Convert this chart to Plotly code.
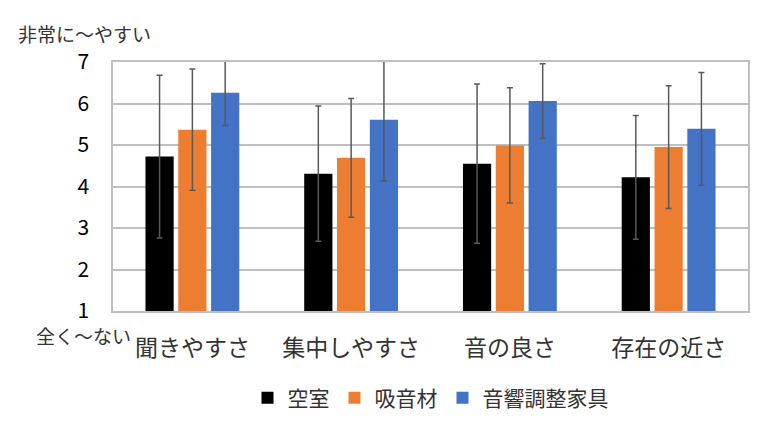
import plotly.graph_objects as go

categories = ["聞きやすさ", "集中しやすさ", "音の良さ", "存在の近さ"]
series_names = ["空室", "吸音材", "音響調整家具"]
empty_room = [4.72, 4.31, 4.55, 4.22]
absorber = [5.37, 4.69, 4.99, 4.95]
furniture = [6.26, 5.61, 6.06, 5.39]
empty_err = [1.96, 1.63, 1.92, 1.49]
absorber_err = [1.46, 1.43, 1.39, 1.48]
furniture_err = [0.79, 1.48, 0.90, 1.36]
colors = ["#000000", "#ED7D31", "#4472C4"]
y_ticks = [1, 2, 3, 4, 5, 6, 7]

FONT = "Noto Sans CJK JP"
fig = go.Figure()
for name, vals, errs, c in zip(series_names, [empty_room, absorber, furniture],
                               [empty_err, absorber_err, furniture_err], colors):
    fig.add_trace(go.Bar(
        x=categories, y=vals, name=name, marker_color=c, marker_line_width=0,
        error_y=dict(type="data", array=errs, color="#595959", thickness=1.5, width=3),
    ))

fig.update_layout(
    width=769, height=447,
    margin=dict(l=113, r=21, t=62, b=136),
    paper_bgcolor="white", plot_bgcolor="white",
    barmode="group", bargap=0.38, bargroupgap=0.14,
    font=dict(family=FONT, color="#222222"),
    showlegend=True,
    legend=dict(orientation="h", x=0.5, xanchor="center", y=-0.35, yanchor="middle",
                font=dict(size=21, family=FONT, color="#333333"), itemwidth=30,
                traceorder="normal"),
    annotations=[
        dict(text="非常に〜やすい", xref="paper", yref="paper", x=-0.153, y=1.0,
             xanchor="left", yanchor="bottom", showarrow=False,
             font=dict(size=19, family=FONT, color="#333333"), yshift=13),
        dict(text="全く〜ない", xref="paper", yref="paper", x=-0.125, y=0.0,
             xanchor="left", yanchor="top", showarrow=False,
             font=dict(size=19, family=FONT, color="#333333"), yshift=-9),
    ],
)
fig.update_xaxes(showline=True, linecolor="#bfbfbf", linewidth=1.5, mirror=True,
                 tickfont=dict(size=23, family=FONT, color="#333333"),
                 ticklabelstandoff=16, ticks="")
fig.update_yaxes(range=[1, 7], tickvals=y_ticks, showgrid=True, gridcolor="#bfbfbf",
                 gridwidth=1.5, showline=True, linecolor="#bfbfbf", linewidth=1.5,
                 mirror=True, zeroline=False,
                 tickfont=dict(size=21, family=FONT, color="#000000"),
                 ticklabelstandoff=18, ticks="")

fig.write_html("out.html")
